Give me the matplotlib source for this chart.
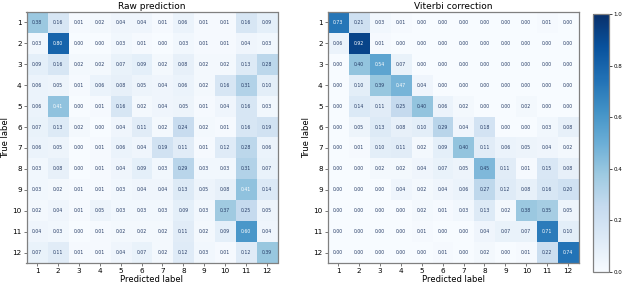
"""
Raw vs. Viterbi-corrected confusion matrices (12 classes).
Output: out.png
"""
import numpy as np
import matplotlib
matplotlib.use("Agg")
import matplotlib.pyplot as plt

LABELS = [str(i) for i in range(1, 13)]

RAW = np.array([
    [0.38, 0.16, 0.01, 0.02, 0.04, 0.04, 0.01, 0.06, 0.01, 0.01, 0.16, 0.09],
    [0.03, 0.80, 0.00, 0.00, 0.03, 0.01, 0.00, 0.03, 0.01, 0.01, 0.04, 0.03],
    [0.09, 0.16, 0.02, 0.02, 0.07, 0.09, 0.02, 0.08, 0.02, 0.02, 0.13, 0.28],
    [0.06, 0.05, 0.01, 0.06, 0.08, 0.05, 0.04, 0.06, 0.02, 0.16, 0.31, 0.10],
    [0.06, 0.41, 0.00, 0.01, 0.16, 0.02, 0.04, 0.05, 0.01, 0.04, 0.16, 0.03],
    [0.07, 0.13, 0.02, 0.00, 0.04, 0.11, 0.02, 0.24, 0.02, 0.01, 0.16, 0.19],
    [0.06, 0.05, 0.00, 0.01, 0.06, 0.04, 0.19, 0.11, 0.01, 0.12, 0.28, 0.06],
    [0.03, 0.08, 0.00, 0.01, 0.04, 0.09, 0.03, 0.29, 0.03, 0.03, 0.31, 0.07],
    [0.03, 0.02, 0.01, 0.01, 0.03, 0.04, 0.04, 0.13, 0.05, 0.08, 0.41, 0.14],
    [0.02, 0.04, 0.01, 0.05, 0.03, 0.03, 0.03, 0.09, 0.03, 0.37, 0.25, 0.05],
    [0.04, 0.03, 0.00, 0.01, 0.02, 0.02, 0.02, 0.11, 0.02, 0.09, 0.60, 0.04],
    [0.07, 0.11, 0.01, 0.01, 0.04, 0.07, 0.02, 0.12, 0.03, 0.01, 0.12, 0.39],
])

VITERBI = np.array([
    [0.73, 0.21, 0.03, 0.01, 0.00, 0.00, 0.00, 0.00, 0.00, 0.00, 0.01, 0.00],
    [0.06, 0.92, 0.01, 0.00, 0.00, 0.00, 0.00, 0.00, 0.00, 0.00, 0.00, 0.00],
    [0.00, 0.40, 0.54, 0.07, 0.00, 0.00, 0.00, 0.00, 0.00, 0.00, 0.00, 0.00],
    [0.00, 0.10, 0.39, 0.47, 0.04, 0.00, 0.00, 0.00, 0.00, 0.00, 0.00, 0.00],
    [0.00, 0.14, 0.11, 0.25, 0.40, 0.06, 0.02, 0.00, 0.00, 0.02, 0.00, 0.00],
    [0.00, 0.05, 0.13, 0.08, 0.10, 0.29, 0.04, 0.18, 0.00, 0.00, 0.03, 0.08],
    [0.00, 0.01, 0.10, 0.11, 0.02, 0.09, 0.40, 0.11, 0.06, 0.05, 0.04, 0.02],
    [0.00, 0.00, 0.02, 0.02, 0.04, 0.07, 0.05, 0.45, 0.11, 0.01, 0.15, 0.08],
    [0.00, 0.00, 0.00, 0.04, 0.02, 0.04, 0.06, 0.27, 0.12, 0.08, 0.16, 0.20],
    [0.00, 0.00, 0.00, 0.00, 0.02, 0.01, 0.03, 0.13, 0.02, 0.38, 0.35, 0.05],
    [0.00, 0.00, 0.00, 0.00, 0.01, 0.00, 0.00, 0.04, 0.07, 0.07, 0.71, 0.10],
    [0.00, 0.00, 0.00, 0.00, 0.00, 0.01, 0.00, 0.02, 0.00, 0.01, 0.22, 0.74],
])

TITLES = ["Raw prediction", "Viterbi correction"]

plt.rcParams.update({"font.family": "DejaVu Sans"})

W, H = 623, 288
fig = plt.figure(figsize=(W / 100, H / 100), dpi=100, facecolor="white")

SPINE = "#808080"
TXT_DARK = "#263c66"


def draw_cm(ax, cm, title):
    im = ax.imshow(cm, cmap="Blues", vmin=0, vmax=1, interpolation="nearest",
                   aspect="auto")
    thresh = cm.max() / 2.0
    for i in range(cm.shape[0]):
        for j in range(cm.shape[1]):
            ax.text(j, i, f"{cm[i, j]:.2f}", ha="center", va="center",
                    fontsize=3.3,
                    color="white" if cm[i, j] > thresh else TXT_DARK)
    ax.set_xticks(range(len(LABELS)))
    ax.set_yticks(range(len(LABELS)))
    ax.set_xticklabels(LABELS)
    ax.set_yticklabels(LABELS)
    ax.tick_params(labelsize=5.2, length=2, width=0.5, pad=1.5, color="#444")
    ax.set_xlabel("Predicted label", fontsize=6, labelpad=1)
    ax.set_ylabel("True label", fontsize=6, labelpad=2)
    ax.set_title(title, fontsize=6.5, pad=2)
    for sp in ax.spines.values():
        sp.set_color(SPINE)
        sp.set_linewidth(0.9)
    return im


ax1 = fig.add_axes([26.5 / W, 25 / H, 251 / W, 251 / H])
ax2 = fig.add_axes([327.6 / W, 25 / H, 251 / W, 251 / H])
draw_cm(ax1, RAW, TITLES[0])
im = draw_cm(ax2, VITERBI, TITLES[1])

cax = fig.add_axes([593 / W, 16 / H, 16 / W, 258 / H])
cb = fig.colorbar(im, cax=cax, ticks=np.linspace(0, 1, 6))
cb.ax.tick_params(labelsize=4, length=2, width=0.5, pad=1)
cb.outline.set_edgecolor(SPINE)
cb.outline.set_linewidth(0.9)

fig.savefig("out.png", dpi=100, facecolor="white")
plt.close(fig)
